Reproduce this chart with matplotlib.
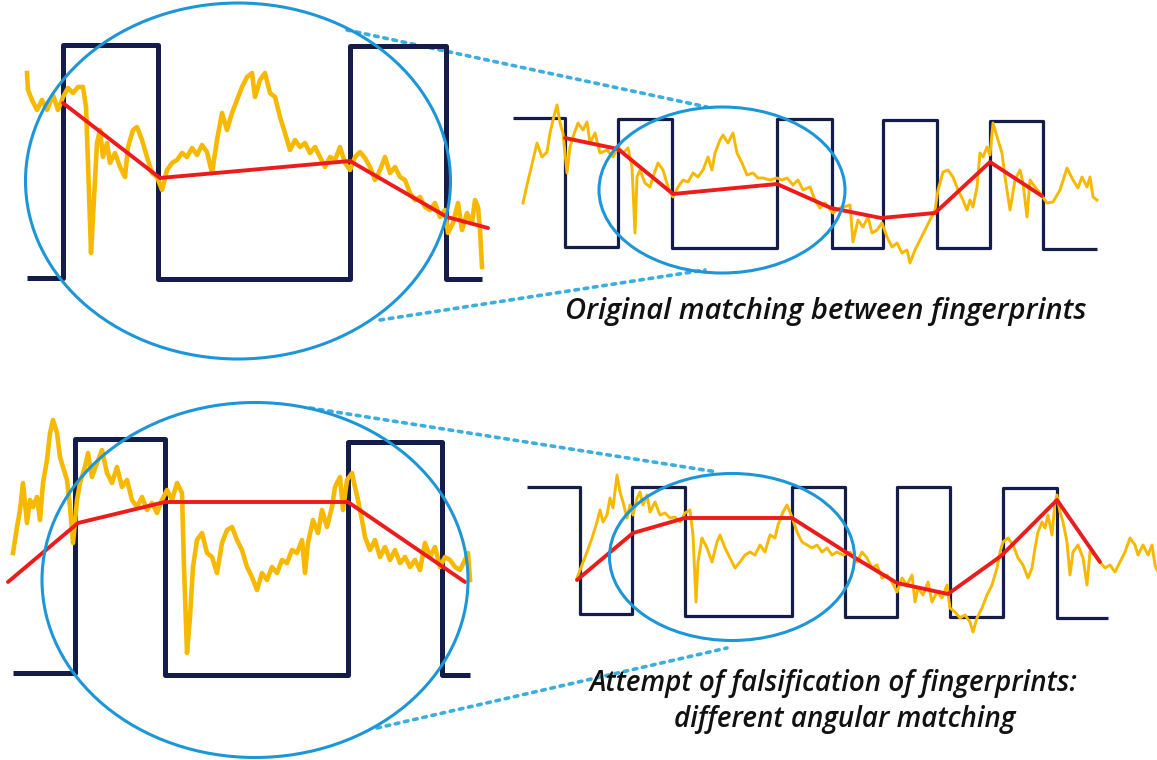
import matplotlib
matplotlib.use("Agg")
import matplotlib.pyplot as plt
from matplotlib.patches import Ellipse

# ---------------- data (pixel-space coordinates) ----------------
# square waves: edge positions and levels (steps-post)
tl_sq_x = [27, 63, 158, 350, 446, 482]
tl_sq_y = [278, 45, 279, 46, 279, 279]
tr_sq_x = [513, 565, 618, 672, 777, 832, 883, 937, 990, 1043, 1097]
tr_sq_y = [118, 247, 119, 248, 119, 248, 120, 248, 121, 249, 249]
bl_sq_x = [13, 75, 165, 348, 442, 470]
bl_sq_y = [673, 439, 675, 442, 675, 675]
br_sq_x = [527, 580, 632, 685, 792, 845, 897, 950, 1003, 1057, 1108]
br_sq_y = [487, 614, 487, 616, 487, 617, 487, 617, 488, 618, 618]

# red angular matching lines
tl_red_x = [63, 160, 350, 447, 488]
tl_red_y = [103, 178, 161, 217, 228]
tr_red_x = [565, 618, 673, 777, 831, 881, 935, 990, 1042]
tr_red_y = [138, 149, 194, 184, 208, 218, 213, 162, 196]
bl_red_x = [8, 78, 165, 348, 465]
bl_red_y = [582, 523, 502, 502, 582]
br_red_x = [577, 633, 685, 792, 852, 897, 948, 1001, 1057, 1100]
br_red_y = [580, 533, 518, 518, 556, 583, 594, 556, 500, 562]

# yellow fingerprint signals
tl_yel_x = [27, 28, 32, 37, 42, 47, 53, 58, 63, 68, 73, 78, 83, 86, 88, 91, 93, 97, 100, 103,
            107, 110, 115, 120, 125, 128, 133, 137, 142, 147, 152, 157, 162, 167, 172, 177, 182,
            187, 192, 197, 202, 207, 212, 217, 222, 227, 232, 237, 242, 247, 252, 255, 260, 265,
            270, 275, 280, 285, 290, 295, 300, 305, 310, 315, 320, 325, 330, 335, 340, 345, 350,
            355, 360, 365, 370, 375, 380, 385, 390, 395, 400, 405, 410, 415, 420, 425, 430, 435,
            440, 445, 448, 453, 458, 462, 467, 472, 475, 478, 480, 482]
tl_yel_y = [73, 90, 100, 110, 100, 110, 95, 110, 97, 88, 93, 87, 87, 107, 163, 253, 217, 143, 130, 157,
            143, 163, 153, 167, 177, 147, 130, 127, 140, 157, 173, 177, 190, 170, 163, 160, 153,
            157, 148, 155, 145, 152, 173, 140, 113, 130, 113, 100, 87, 77, 73, 97, 80, 73,
            93, 97, 117, 133, 150, 140, 147, 143, 153, 147, 157, 167, 157, 160, 147, 163, 170,
            157, 152, 158, 167, 180, 170, 157, 173, 167, 177, 180, 193, 200, 197, 207, 210, 203,
            217, 210, 233, 223, 203, 230, 213, 223, 200, 207, 230, 267]

tr_yel_x = [523, 527, 533, 537, 542, 547, 550, 553, 557, 560, 563, 567, 570, 573, 578, 583, 587, 590,
            595, 600, 607, 613, 618, 623, 628, 632, 635, 637, 640, 645, 650, 653, 658, 663, 668, 673,
            678, 683, 688, 693, 698, 703, 708, 712, 715, 720, 723, 728, 733, 737, 742, 747, 753, 758,
            763, 770, 777, 782, 787, 793, 798, 803, 810, 815, 820, 825, 833, 840, 850, 853, 858, 863,
            868, 872, 877, 882, 887, 892, 897, 902, 907, 910, 915, 920, 925, 930, 935, 938, 943, 948,
            953, 958, 963, 967, 970, 973, 977, 980, 983, 987, 990, 993, 998, 1002, 1005, 1010, 1015,
            1020, 1023, 1027, 1030, 1035, 1040, 1047, 1053, 1060, 1067, 1073, 1078, 1082, 1087, 1090,
            1093, 1097]
tr_yel_y = [203, 185, 160, 143, 157, 152, 133, 120, 105, 123, 133, 173, 147, 137, 123, 130, 122, 143,
            133, 153, 150, 157, 147, 153, 148, 167, 233, 177, 170, 183, 187, 177, 163, 170, 187, 197,
            187, 180, 182, 173, 177, 170, 157, 170, 153, 140, 135, 143, 133, 153, 163, 175, 173, 178,
            178, 180, 178, 180, 178, 185, 180, 190, 187, 200, 208, 203, 213, 208, 205, 242, 220, 227,
            217, 233, 230, 223, 237, 247, 243, 253, 250, 263, 250, 240, 230, 220, 210, 190, 172, 170,
            177, 190, 200, 210, 200, 207, 187, 153, 157, 147, 155, 123, 140, 153, 177, 210, 180,
            170, 183, 217, 180, 187, 193, 203, 202, 190, 168, 180, 188, 177, 187, 177,
            197, 200]

bl_yel_x = [13, 17, 20, 23, 27, 30, 33, 37, 40, 43, 47, 50, 53, 57, 60, 63, 67, 70, 73, 77, 80, 85,
            88, 92, 97, 102, 107, 112, 117, 122, 127, 132, 137, 142, 147, 152, 157, 162, 167, 172,
            177, 182, 184, 187, 190, 193, 197, 202, 207, 212, 217, 222, 227, 232, 237, 242, 247, 252,
            257, 262, 267, 272, 277, 282, 287, 292, 297, 302, 305, 308, 313, 318, 322, 327, 332, 335,
            340, 343, 347, 352, 355, 358, 362, 365, 370, 375, 380, 385, 390, 395, 400, 405, 410, 415,
            420, 425, 430, 435, 440, 445, 450, 455, 460, 465, 468, 470]
bl_yel_y = [553, 527, 510, 483, 523, 500, 507, 497, 520, 483, 460, 433, 420, 433, 457, 467, 480, 507,
            543, 500, 483, 467, 453, 477, 463, 450, 473, 483, 467, 487, 480, 500, 507, 497, 510, 503,
            513, 500, 490, 500, 483, 493, 567, 653, 617, 567, 540, 533, 553, 557, 573, 543, 530, 527,
            540, 550, 567, 577, 590, 573, 580, 567, 573, 560, 563, 550, 553, 540, 573, 543, 520, 533,
            510, 527, 507, 487, 477, 510, 480, 473, 487, 500, 520, 537, 550, 540, 557, 547, 560, 550,
            563, 557, 567, 560, 570, 543, 557, 547, 567, 557, 560, 567, 570, 560, 553, 580]

br_yel_x = [577, 582, 587, 592, 597, 600, 603, 607, 610, 613, 617, 620, 623, 627, 630, 633, 637, 640,
            643, 647, 650, 655, 660, 665, 670, 675, 680, 685, 690, 693, 696, 698, 702, 707, 712, 717,
            720, 725, 730, 735, 740, 745, 750, 755, 760, 765, 770, 775, 778, 783, 787, 790, 793, 797,
            802, 807, 812, 817, 822, 827, 832, 837, 843, 850, 857, 862, 867, 872, 877, 882, 887, 892,
            897, 902, 907, 912, 915, 918, 923, 928, 932, 937, 942, 947, 950, 955, 960, 965, 970, 973,
            977, 982, 987, 992, 997, 1000, 1003, 1008, 1013, 1018, 1023, 1028, 1032, 1035, 1038, 1042,
            1045, 1048, 1052, 1055, 1057, 1060, 1063, 1067, 1070, 1073, 1078, 1083, 1087, 1090, 1095,
            1100, 1105, 1110, 1115, 1120, 1125, 1130, 1135, 1138, 1143, 1148, 1152, 1155, 1157]
br_yel_y = [578, 565, 552, 538, 522, 510, 522, 515, 498, 508, 475, 492, 502, 518, 505, 515, 498, 492,
            505, 495, 512, 502, 515, 513, 518, 517, 522, 513, 510, 535, 602, 562, 538, 548, 562, 542,
            535, 548, 558, 568, 562, 555, 552, 555, 545, 552, 535, 538, 525, 512, 505, 512, 520, 532,
            542, 545, 548, 545, 552, 548, 555, 552, 555, 552, 562, 552, 558, 568, 565, 578, 575, 582,
            592, 578, 585, 575, 602, 588, 595, 582, 602, 592, 598, 585, 608, 612, 618, 615, 622, 632,
            618, 608, 595, 585, 568, 552, 542, 538, 545, 558, 565, 578, 568, 548, 532, 522,
            528, 515, 535, 502, 495, 512, 522, 542, 575, 552, 545, 558, 585, 552, 555,
            562, 568, 565, 572, 562, 552, 538, 545, 555, 545, 555, 545, 565, 570]

# ellipses (centre x, centre y, width, height)
ellipses = [(238, 181, 425, 356), (722, 190, 246, 166), (255, 580, 426, 355), (732, 557, 245, 167)]

# dotted connector lines (x pair, y pair)
connectors = [((347, 707), (30, 107)), ((380, 705), (320, 270)),
              ((310, 717), (408, 472)), ((377, 727), (728, 648))]

caption_top = "Original matching between fingerprints"
caption_bot1 = "Attempt of falsification of fingerprints:"
caption_bot2 = "different angular matching"

# ---------------- styles ----------------
NAVY = "#141c4a"
YEL = "#f7b900"
RED = "#ec1c1c"
BLUE = "#1d96d8"
DOT = "#3aaee0"

fig = plt.figure(figsize=(11.57, 7.60), dpi=100)
ax = fig.add_axes([0, 0, 1, 1])
ax.set_xlim(0, 1157)
ax.set_ylim(760, 0)
ax.axis("off")

# connectors first (behind everything)
for (xs, ys) in connectors:
    ax.plot(xs, ys, color=DOT, lw=2.6, linestyle=(0, (1.0, 1.6)), dash_capstyle="round", zorder=1)

# square waves
for xs, ys, lw in [(tl_sq_x, tl_sq_y, 3.6), (tr_sq_x, tr_sq_y, 2.3),
                   (bl_sq_x, bl_sq_y, 3.6), (br_sq_x, br_sq_y, 2.3)]:
    ax.step(xs, ys, where="post", color=NAVY, lw=lw, solid_joinstyle="round",
            solid_capstyle="butt", zorder=2)

# yellow signals
for xs, ys, lw in [(tl_yel_x, tl_yel_y, 3.3), (tr_yel_x, tr_yel_y, 2.1),
                   (bl_yel_x, bl_yel_y, 3.3), (br_yel_x, br_yel_y, 2.1)]:
    ax.plot(xs, ys, color=YEL, lw=lw, solid_joinstyle="round", zorder=3)

# red matching lines
for xs, ys, lw in [(tl_red_x, tl_red_y, 2.8), (tr_red_x, tr_red_y, 2.8),
                   (bl_red_x, bl_red_y, 2.8), (br_red_x, br_red_y, 2.8)]:
    ax.plot(xs, ys, color=RED, lw=lw, solid_joinstyle="round", solid_capstyle="round", zorder=4)

# ellipses
for (cx, cy, w, h) in ellipses:
    ax.add_patch(Ellipse((cx, cy), w, h, fill=False, edgecolor=BLUE, lw=2.2, zorder=5))

# captions
tkw = dict(fontstyle="italic", fontweight="semibold",
           family=["Open Sans", "DejaVu Sans"],
           color="#111111", ha="center", va="center", zorder=6)
ax.text(826, 311, caption_top, fontsize=21, **tkw)
ax.text(834, 684, caption_bot1, fontsize=20, **tkw)
ax.text(845, 719, caption_bot2, fontsize=20, **tkw)

fig.savefig("out.png", dpi=100, facecolor="white")
